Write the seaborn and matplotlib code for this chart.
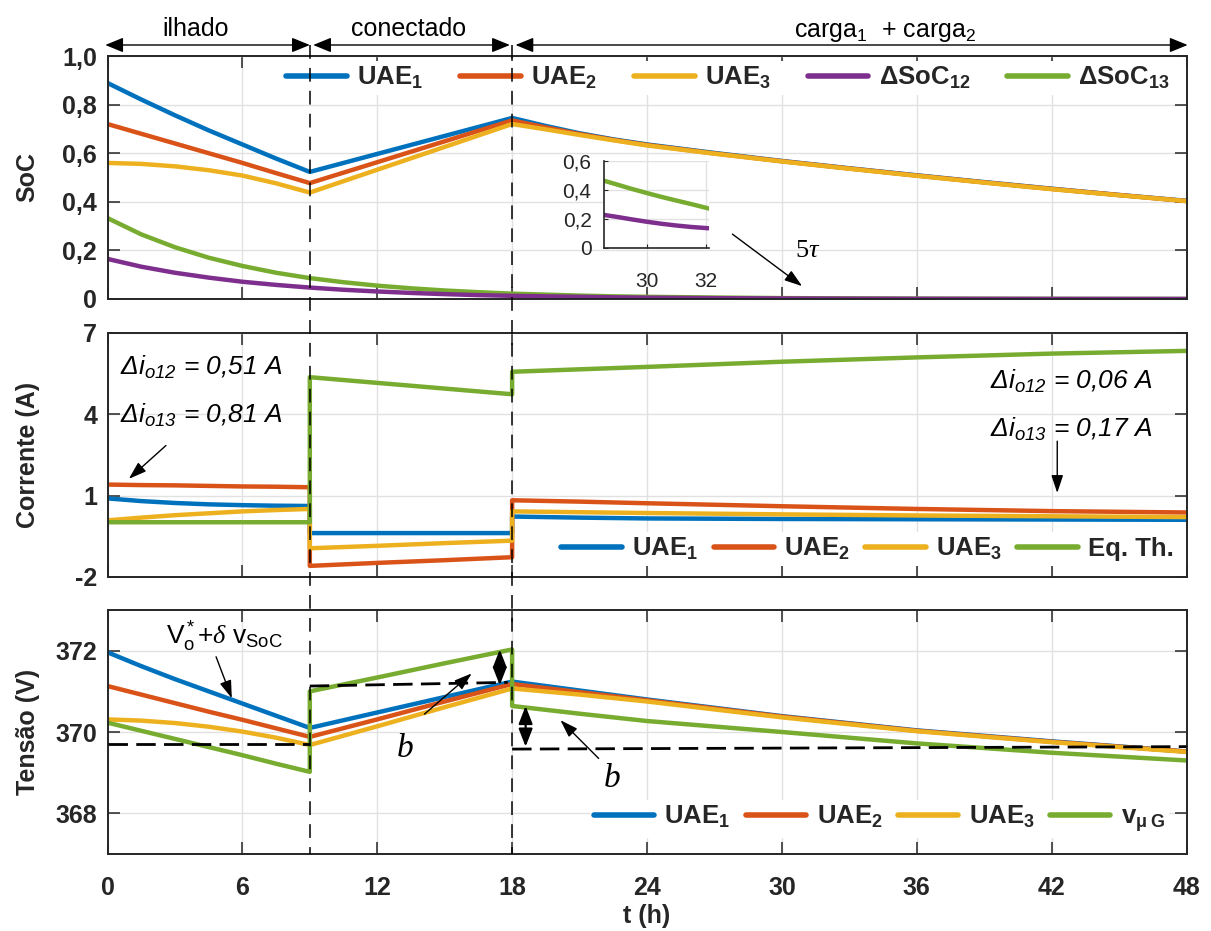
import matplotlib
matplotlib.use("Agg")
import matplotlib.pyplot as plt
import seaborn as sns
from matplotlib.lines import Line2D
from matplotlib.transforms import blended_transform_factory

# ---------------- data ----------------
# State of charge (top panel)
t_soc = [0, 1.5, 3, 4.5, 6, 7.5, 9, 10.5, 12, 13.5, 15, 16.5, 18,
         19.5, 21, 22.5, 24, 27, 30, 33, 36, 39, 42, 45, 48]
soc_uae1 = [0.889, 0.821, 0.756, 0.694, 0.636, 0.578, 0.523, 0.560, 0.597, 0.634, 0.671, 0.708, 0.745,
            0.712, 0.682, 0.657, 0.636, 0.601, 0.568, 0.538, 0.509, 0.481, 0.454, 0.428, 0.404]
soc_uae2 = [0.720, 0.680, 0.640, 0.600, 0.560, 0.518, 0.477, 0.520, 0.563, 0.606, 0.649, 0.692, 0.735,
            0.706, 0.679, 0.655, 0.634, 0.599, 0.567, 0.537, 0.508, 0.480, 0.453, 0.428, 0.403]
soc_uae3 = [0.560, 0.556, 0.546, 0.530, 0.508, 0.476, 0.438, 0.485, 0.532, 0.579, 0.626, 0.673, 0.720,
            0.698, 0.675, 0.653, 0.632, 0.598, 0.566, 0.536, 0.507, 0.479, 0.452, 0.427, 0.403]
dsoc_12 = [0.165, 0.133, 0.108, 0.088, 0.071, 0.058, 0.047, 0.038, 0.031, 0.025, 0.020, 0.016, 0.013,
           0.011, 0.009, 0.007, 0.0055, 0.0035, 0.0022, 0.0014, 0.0009, 0.0006, 0.0004, 0.0003, 0.0002]
dsoc_13 = [0.333, 0.266, 0.213, 0.170, 0.136, 0.108, 0.086, 0.069, 0.055, 0.044, 0.035, 0.028, 0.022,
           0.018, 0.014, 0.011, 0.009, 0.006, 0.0037, 0.0024, 0.0015, 0.001, 0.0006, 0.0004, 0.0003]

# Detail window of the SoC differences (x 10^-2)
t_zoom = [28.55, 29.0, 29.5, 30.0, 30.5, 31.0, 31.5, 32.1]
zoom_d12 = [0.228, 0.214, 0.197, 0.181, 0.167, 0.155, 0.145, 0.136]
zoom_d13 = [0.464, 0.437, 0.407, 0.379, 0.352, 0.327, 0.303, 0.272]

# Output currents (middle panel) -- repeated instants mark the switching events
t_cur = [0, 1.5, 3, 4.5, 6, 7.5, 9, 9, 12, 15, 18, 18, 21, 24, 30, 36, 42, 48]
i_uae1 = [0.90, 0.80, 0.73, 0.68, 0.65, 0.63, 0.62, -0.38, -0.38, -0.38, -0.38,
          0.23, 0.19, 0.16, 0.14, 0.13, 0.12, 0.11]
i_uae2 = [1.41, 1.39, 1.38, 1.36, 1.34, 1.33, 1.31, -1.59, -1.48, -1.38, -1.27,
          0.83, 0.78, 0.72, 0.61, 0.51, 0.43, 0.38]
i_uae3 = [0.09, 0.19, 0.28, 0.35, 0.42, 0.47, 0.51, -0.94, -0.85, -0.75, -0.66,
          0.42, 0.39, 0.36, 0.31, 0.27, 0.24, 0.21]
i_eqth = [0.02, 0.02, 0.02, 0.02, 0.02, 0.02, 0.02, 5.37, 5.16, 4.95, 4.74,
          5.57, 5.66, 5.75, 5.94, 6.10, 6.24, 6.34]

# Voltages (bottom panel)
t_v = [0, 1.5, 3, 4.5, 6, 7.5, 9, 9, 12, 15, 18, 18, 21, 24, 30, 36, 42, 48]
v_uae1 = [371.96, 371.62, 371.30, 371.00, 370.70, 370.40, 370.10, 370.10, 370.48, 370.86, 371.24,
          371.24, 371.02, 370.80, 370.39, 370.04, 369.77, 369.52]
v_uae2 = [371.13, 370.92, 370.71, 370.50, 370.30, 370.09, 369.88, 369.88, 370.31, 370.75, 371.18,
          371.18, 370.98, 370.78, 370.38, 370.03, 369.76, 369.52]
v_uae3 = [370.31, 370.28, 370.22, 370.13, 370.01, 369.86, 369.68, 369.68, 370.14, 370.61, 371.07,
          371.07, 370.92, 370.75, 370.36, 370.02, 369.75, 369.51]
v_grid = [370.23, 370.03, 369.83, 369.63, 369.43, 369.22, 369.02, 371.00, 371.34, 371.69, 372.03,
          370.64, 370.45, 370.27, 370.00, 369.72, 369.49, 369.30]

# Reference levels (dashed)
ref_t_a, ref_v_a = [0, 9], [369.70, 369.70]
ref_t_b, ref_v_b = [9, 17.8], [371.13, 371.22]
ref_t_c, ref_v_c = [18, 48], [369.58, 369.64]

# ---------------- style ----------------
sns.set_style("ticks")
SANS = "Liberation Sans"
plt.rcParams.update({
    "font.family": [SANS, "DejaVu Sans"],
    "mathtext.fontset": "custom",
    "mathtext.rm": "Liberation Serif",
    "mathtext.it": "Liberation Serif:italic",
    "mathtext.bf": "Liberation Sans:bold",
    "mathtext.default": "regular",
    "axes.facecolor": "white",
    "figure.facecolor": "white",
})

BLUE, ORANGE, YELLOW = "#0072BD", "#D95319", "#EDB120"
PURPLE, GREEN = "#7E2F8E", "#77AC30"
DARK = "#262626"
LW = 3.2
TICK_FS = 18

fig = plt.figure(figsize=(12.11, 9.31), dpi=100)
FW, FH = 1211.0, 931.0
left, width = 107.5 / FW, (1186.5 - 107.5) / FW
ax1 = fig.add_axes([left, 1 - 299 / FH, width, 243 / FH])
ax2 = fig.add_axes([left, 1 - 577 / FH, width, 244 / FH])
ax3 = fig.add_axes([left, 1 - 854 / FH, width, 244 / FH])


def trace(ax, t, y, color, z=2, lw=LW):
    sns.lineplot(x=t, y=y, ax=ax, color=color, lw=lw, estimator=None,
                 sort=False, legend=False, zorder=z)


def frame(ax, yticks, ylabels, ylim, show_x=False):
    ax.set_xlim(0, 48)
    ax.set_ylim(*ylim)
    ax.set_xticks(range(0, 49, 6), labels=[str(v) for v in range(0, 49, 6)],
                  fontweight="bold")
    ax.set_yticks(yticks, labels=ylabels, fontweight="bold")
    ax.grid(True, color="#e1e1e1", lw=1.0)
    ax.set_axisbelow(True)
    ax.tick_params(direction="in", top=True, right=True, length=8.5, width=1.1,
                   color=DARK, labelsize=TICK_FS, labelcolor=DARK)
    ax.tick_params(axis="x", pad=15.5, labelbottom=show_x)
    ax.tick_params(axis="y", pad=7.5)
    for s in ax.spines.values():
        s.set_visible(True)
        s.set_color(DARK)
        s.set_linewidth(1.4)
    ax.set_xlabel("")


def legend(ax, colors, labels, anchor, spacing):
    handles = [Line2D([], [], color=c, lw=4) for c in colors]
    ax.legend(handles, labels, ncol=len(labels), loc="center right",
              bbox_to_anchor=anchor, frameon=True, facecolor="white",
              edgecolor="none", framealpha=1,
              prop=dict(family=SANS, weight="bold", size=18.5),
              handlelength=2.35, handletextpad=0.4, columnspacing=spacing,
              borderpad=0.15, borderaxespad=0)


# ---------------- top: SoC ----------------
trace(ax1, t_soc, soc_uae1, BLUE)
trace(ax1, t_soc, soc_uae2, ORANGE)
trace(ax1, t_soc, soc_uae3, YELLOW)
trace(ax1, t_soc, dsoc_13, GREEN)
trace(ax1, t_soc, dsoc_12, PURPLE)
frame(ax1, [0, 0.2, 0.4, 0.6, 0.8, 1.0], ["0", "0,2", "0,4", "0,6", "0,8", "1,0"], (0, 1))
ax1.set_ylabel("SoC", fontsize=18, fontweight="bold", color=DARK)
legend(ax1, [BLUE, ORANGE, YELLOW, PURPLE, GREEN],
       ["UAE$_1$", "UAE$_2$", "UAE$_3$", "ΔSoC$_{12}$", "ΔSoC$_{13}$"], (0.988, 0.909), 1.45)

ax1.annotate("", xy=(30.9, 0.053), xytext=(27.8, 0.267),
             arrowprops=dict(arrowstyle="-|>,head_length=0.9,head_width=0.3",
                             color="k", lw=1.0, mutation_scale=12, shrinkA=0, shrinkB=0))
ax1.text(30.6, 0.174, r"$\mathrm{5}\mathit{\tau}$", fontsize=19, va="baseline", color="k")

# inset with the SoC differences
axi = fig.add_axes([604 / FW, 1 - 248 / FH, 105 / FW, 87 / FH])
trace(axi, t_zoom, zoom_d13, GREEN)
trace(axi, t_zoom, zoom_d12, PURPLE)
axi.set_xlim(28.55, 32.1)
axi.set_ylim(0, 0.6)
axi.set_xticks([30, 32], labels=["30", "32"])
axi.set_yticks([0, 0.2, 0.4, 0.6], labels=["0", "0,2", "0,4", "0,6"])
axi.grid(True, color="#e1e1e1", lw=1.0)
axi.set_axisbelow(True)
axi.tick_params(direction="in", length=3, width=0.8, color=DARK,
                labelsize=15, labelcolor=DARK)
axi.tick_params(axis="x", pad=17)
axi.tick_params(axis="y", pad=9)
for side in ("top", "right"):
    axi.spines[side].set_visible(False)
for side in ("left", "bottom"):
    axi.spines[side].set_color(DARK)
    axi.spines[side].set_linewidth(1.2)
axi.set_xlabel("")
axi.set_ylabel("")

# ---------------- middle: currents ----------------
trace(ax2, t_cur, i_uae1, BLUE)
trace(ax2, t_cur, i_uae2, ORANGE)
trace(ax2, t_cur, i_uae3, YELLOW)
trace(ax2, t_cur, i_eqth, GREEN)
frame(ax2, [-2, 1, 4, 7], ["-2", "1", "4", "7"], (-2, 7))
ax2.set_ylabel("Corrente (A)", fontsize=18, fontweight="bold", color=DARK)
legend(ax2, [BLUE, ORANGE, YELLOW, GREEN],
       ["UAE$_1$", "UAE$_2$", "UAE$_3$", "Eq. Th."], (0.992, 0.115), 0.6)

ital = dict(fontsize=19, style="italic", va="baseline", color="k", family=SANS)
ax2.text(0.55, 5.44, r"$Δi_{o12}$ = 0,51 A", **ital)
ax2.text(0.55, 3.69, r"$Δi_{o13}$ = 0,81 A", **ital)
ax2.text(46.5, 4.93, r"$Δi_{o12}$ = 0,06 A", ha="right", **ital)
ax2.text(46.5, 3.17, r"$Δi_{o13}$ = 0,17 A", ha="right", **ital)
thin = dict(arrowstyle="-|>,head_length=0.9,head_width=0.3", color="k", lw=1.0,
            mutation_scale=12, shrinkA=0, shrinkB=0)
ax2.annotate("", xy=(0.95, 1.62), xytext=(2.6, 2.85), arrowprops=thin)
ax2.annotate("", xy=(42.25, 1.10), xytext=(42.25, 3.01), arrowprops=thin)

# ---------------- bottom: voltages ----------------
trace(ax3, t_v, v_uae1, BLUE)
trace(ax3, t_v, v_uae2, ORANGE)
trace(ax3, t_v, v_uae3, YELLOW)
trace(ax3, t_v, v_grid, GREEN)
for rt, rv in ((ref_t_a, ref_v_a), (ref_t_b, ref_v_b), (ref_t_c, ref_v_c)):
    ax3.plot(rt, rv, color="k", lw=2.0, dashes=(7, 3), zorder=3)
frame(ax3, [368, 370, 372], ["368", "370", "372"], (367, 373), show_x=True)
ax3.set_ylabel("Tensão (V)", fontsize=18, fontweight="bold", color=DARK)
ax3.set_xlabel("t (h)", fontsize=18, fontweight="bold", color=DARK)
ax3.xaxis.set_label_coords(0.5, -0.205)
legend(ax3, [BLUE, ORANGE, YELLOW, GREEN],
       ["UAE$_1$", "UAE$_2$", "UAE$_3$", "v$_{μ\\ G}$"], (0.984, 0.144), 0.6)

ax3.text(2.6, 372.14, r"V$_o^*$+$\mathit{δ}$ v$_{SoC}$", fontsize=19, va="baseline", color="k")
ax3.annotate("", xy=(5.53, 370.83), xytext=(4.83, 371.85), arrowprops=thin)
ax3.text(12.85, 369.39, r"$\mathit{b}$", fontsize=24, va="baseline", color="k")
ax3.text(22.05, 368.65, r"$\mathit{b}$", fontsize=24, va="baseline", color="k")
ax3.annotate("", xy=(16.2, 371.44), xytext=(14.1, 370.44), arrowprops=thin)
ax3.annotate("", xy=(20.15, 370.29), xytext=(21.85, 369.35), arrowprops=thin)
dbl = dict(arrowstyle="<|-|>,head_length=0.9,head_width=0.35", color="k", lw=1.6,
           mutation_scale=12, shrinkA=0, shrinkB=0)
ax3.annotate("", xy=(17.45, 371.15), xytext=(17.45, 372.03), arrowprops=dbl)
ax3.annotate("", xy=(18.6, 369.64), xytext=(18.6, 370.64), arrowprops=dbl)

for ax in (ax1, ax2, ax3):
    ax.yaxis.set_label_coords(-0.063, 0.5)

# ---------------- operating modes header ----------------
hdr = blended_transform_factory(ax1.transData, fig.transFigure)
y_arrow = 1 - 45 / FH
y_text = 1 - 36.5 / FH
head = dict(arrowstyle="<|-|>,head_length=1.1,head_width=0.45", color="k", lw=1.0,
            mutation_scale=10, shrinkA=0, shrinkB=0)
for a, b in ((-0.1, 9.0), (9.15, 17.9), (18.15, 48.05)):
    ax1.annotate("", xy=(b, y_arrow), xytext=(a, y_arrow), xycoords=hdr,
                 textcoords=hdr, arrowprops=head, annotation_clip=False)
for x, s in ((3.9, "ilhado"), (13.4, "conectado"), (34.6, "carga$_1$  + carga$_2$")):
    ax1.text(x, y_text, s, transform=hdr, ha="center", va="baseline",
             fontsize=18, color="k")

# switching instants across all panels
vl = blended_transform_factory(ax3.transData, fig.transFigure)
for ts in (9, 18):
    fig.add_artist(Line2D([ts, ts], [1 - 45 / FH, 1 - 854 / FH], transform=vl,
                          color="k", lw=1.1, dashes=(9, 6), zorder=5))

fig.savefig("out.png", dpi=100)
